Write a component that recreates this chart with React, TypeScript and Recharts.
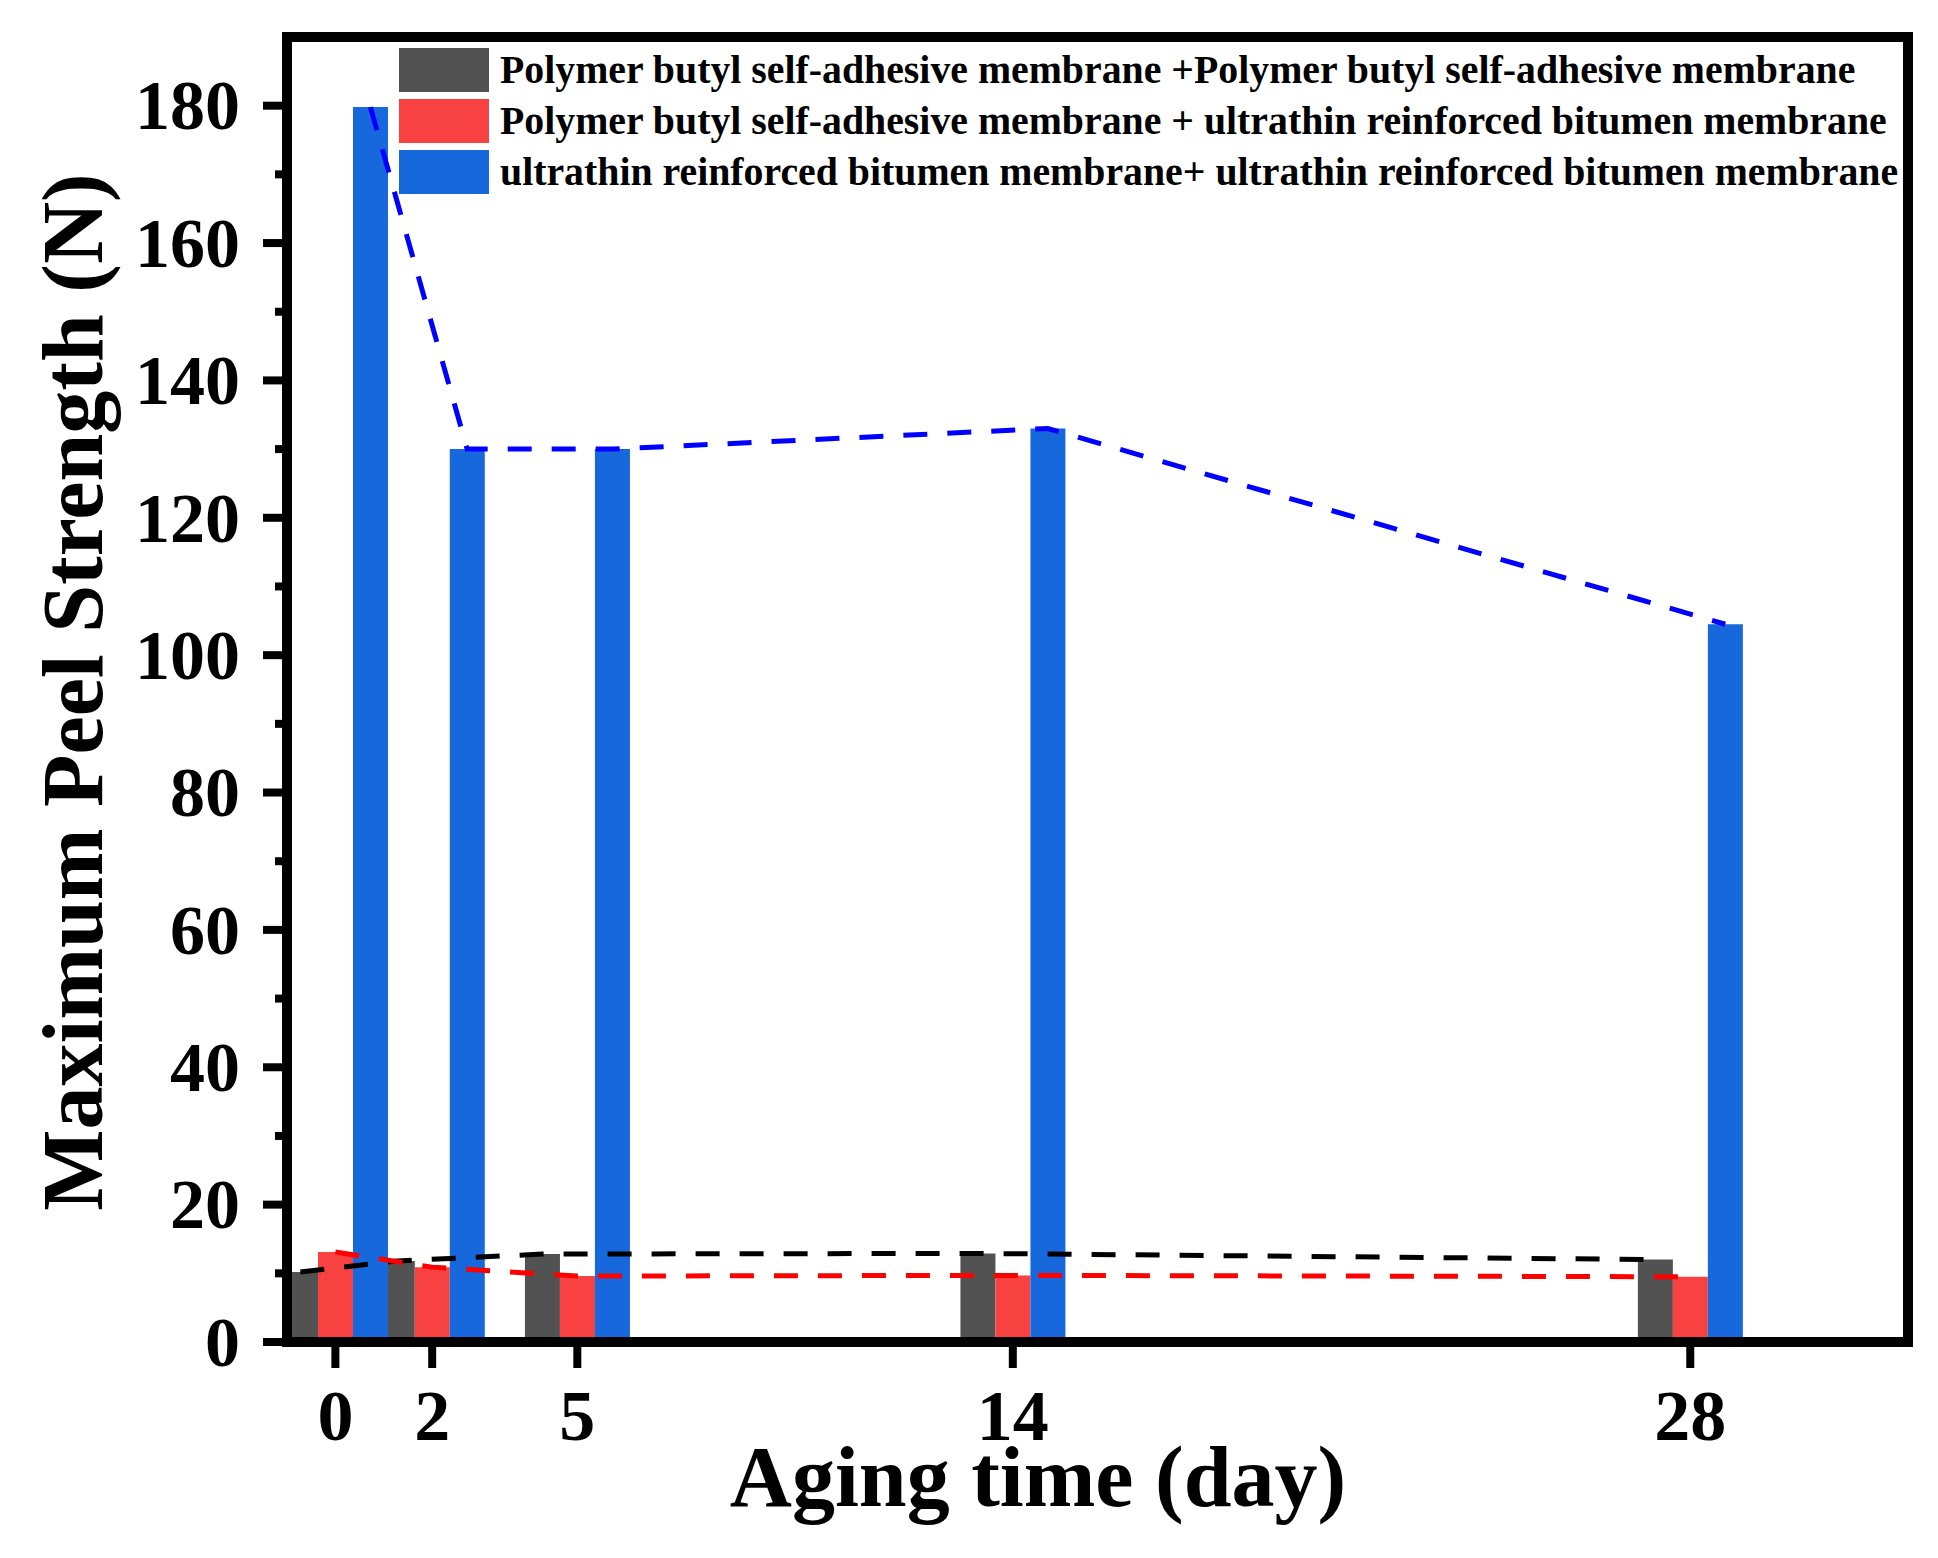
import { ComposedChart, Bar, Line, XAxis, YAxis, ReferenceLine, Legend, Label } from "recharts";

const days = [0, 2, 5, 14, 28];
const butylButyl = [10.2, 11.8, 12.8, 12.9, 12.0];
const butylBitumen = [13.1, 10.9, 9.6, 9.7, 9.5];
const bitumenBitumen = [179.8, 130, 130, 133, 104.5];

const seriesNames = [
  "Polymer butyl self-adhesive membrane +Polymer butyl self-adhesive membrane",
  "Polymer butyl self-adhesive membrane + ultrathin reinforced bitumen membrane",
  "ultrathin reinforced bitumen membrane+ ultrathin reinforced bitumen membrane",
];
const barColors = ["#525252", "#f84242", "#1668dc"];
const lineColors = ["#000000", "#ff0000", "#0000ff"];

const yTicks = [0, 10, 20, 30, 40, 50, 60, 70, 80, 90, 100, 110, 120, 130, 140, 150, 160, 170, 180];

const data = days.map((day, i) => ({
  day,
  gray: butylButyl[i],
  red: butylBitumen[i],
  blue: bitumenBitumen[i],
}));

const W = 1938;
const H = 1558;
const FONT = "'Liberation Serif', 'Times New Roman', serif";
const PLOT = { left: 287, right: 1908, top: 37, bottom: 1342 };
const X_DOMAIN: [number, number] = [-1, 32.5];
const Y_DOMAIN: [number, number] = [0, 190];
const BAR_PX = 35;
const Y_AXIS_W = 100;
const X_AXIS_H = 100;

// bars sit side by side, so shift the gray/blue axes by one bar width
const pxPerDay = (PLOT.right - PLOT.left) / (X_DOMAIN[1] - X_DOMAIN[0]);
const shift = BAR_PX / pxPerDay;

function YTick(props: any) {
  const { y, payload } = props;
  const v = payload.value;
  const major = v % 20 === 0;
  return (
    <g>
      <line x1={PLOT.left - (major ? 24 : 12)} x2={PLOT.left} y1={y} y2={y} stroke="#000" strokeWidth={8} />
      {major && (
        <text x={240} y={y} dy="0.34em" textAnchor="end" fontFamily={FONT} fontWeight="bold" fontSize={70} fill="#000">
          {v}
        </text>
      )}
    </g>
  );
}

// drawn from our own arrays so the order matches the figure
function LegendBox() {
  return (
    <div style={{ fontFamily: FONT, fontWeight: "bold", fontSize: 39.8, color: "#000" }}>
      {seriesNames.map((name, i) => (
        <div key={name} style={{ display: "flex", alignItems: "center", height: 44, marginBottom: 7 }}>
          <div style={{ width: 90, height: 44, background: barColors[i], marginRight: 11 }} />
          <span style={{ whiteSpace: "nowrap", lineHeight: "44px" }}>{name}</span>
        </div>
      ))}
    </div>
  );
}

export default function App() {
  return (
    <div style={{ position: "absolute", left: 0, top: 0, width: W, height: H, background: "#fff" }}>
      <ComposedChart
        width={W}
        height={H}
        data={data}
        margin={{ top: PLOT.top, right: W - PLOT.right, bottom: H - PLOT.bottom - X_AXIS_H, left: PLOT.left - Y_AXIS_W }}
      >
        <XAxis
          type="number"
          dataKey="day"
          domain={X_DOMAIN}
          allowDataOverflow
          ticks={days}
          interval={0}
          height={X_AXIS_H}
          tickSize={26}
          tickMargin={21}
          tick={{ fontFamily: FONT, fontWeight: "bold", fontSize: 72, fill: "#000" }}
          tickLine={{ stroke: "#000", strokeWidth: 8 }}
          axisLine={{ stroke: "#000", strokeWidth: 10 }}
        >
          <Label
            content={() => (
              <text x={1038} y={1506} textAnchor="middle" fontFamily={FONT} fontWeight="bold" fontSize={86} fill="#000">
                Aging time (day)
              </text>
            )}
          />
        </XAxis>
        <XAxis xAxisId="gray" type="number" dataKey="day" hide allowDataOverflow domain={[X_DOMAIN[0] + shift, X_DOMAIN[1] + shift]} />
        <XAxis xAxisId="blue" type="number" dataKey="day" hide allowDataOverflow domain={[X_DOMAIN[0] - shift, X_DOMAIN[1] - shift]} />
        <YAxis
          type="number"
          domain={Y_DOMAIN}
          allowDataOverflow
          ticks={yTicks}
          interval={0}
          width={Y_AXIS_W}
          tickLine={false}
          tick={(p: any) => <YTick {...p} />}
          axisLine={{ stroke: "#000", strokeWidth: 10, strokeLinecap: "square" }}
        >
          <Label
            content={() => (
              <text
                x={102}
                y={692}
                transform="rotate(-90 102 692)"
                textAnchor="middle"
                fontFamily={FONT}
                fontWeight="bold"
                fontSize={86}
                fill="#000"
              >
                Maximum Peel Strength (N)
              </text>
            )}
          />
        </YAxis>

        <Bar xAxisId="gray" dataKey="gray" name={seriesNames[0]} fill={barColors[0]} barSize={BAR_PX} isAnimationActive={false} />
        <Bar dataKey="red" name={seriesNames[1]} fill={barColors[1]} barSize={BAR_PX} isAnimationActive={false} />
        <Bar xAxisId="blue" dataKey="blue" name={seriesNames[2]} fill={barColors[2]} barSize={BAR_PX} isAnimationActive={false} />

        <Line xAxisId="gray" dataKey="gray" stroke={lineColors[0]} strokeWidth={5} strokeDasharray="24 20" dot={false} legendType="none" isAnimationActive={false} />
        <Line dataKey="red" stroke={lineColors[1]} strokeWidth={5} strokeDasharray="24 20" dot={false} legendType="none" isAnimationActive={false} />
        <Line xAxisId="blue" dataKey="blue" stroke={lineColors[2]} strokeWidth={5} strokeDasharray="24 20" dot={false} legendType="none" isAnimationActive={false} />

        <ReferenceLine y={Y_DOMAIN[1]} stroke="#000" strokeWidth={10} strokeLinecap="square" />
        <ReferenceLine x={X_DOMAIN[1]} stroke="#000" strokeWidth={10} strokeLinecap="square" />

        <Legend
          layout="vertical"
          align="center"
          verticalAlign="middle"
          wrapperStyle={{ left: 399, top: 48, width: 1520 }}
          content={() => <LegendBox />}
        />
      </ComposedChart>
    </div>
  );
}
